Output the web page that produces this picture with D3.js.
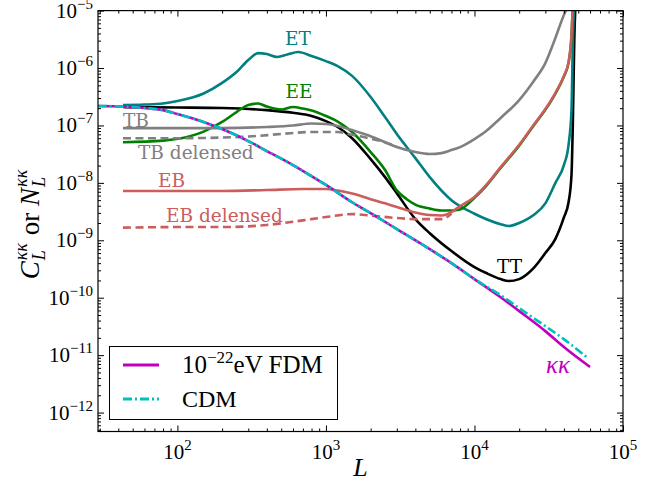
<!DOCTYPE html>
<html><head><meta charset="utf-8">
<script src="https://cdn.jsdelivr.net/npm/d3@7/dist/d3.min.js"></script>
<style>body{margin:0;background:#fff}</style>
</head><body>
<svg id="chart" width="665" height="484" xmlns="http://www.w3.org/2000/svg"></svg>
<script>
// ---------- data ----------
const L_TT = [43,100,200,400,600,800,1000,1200,1500,2000,2500,3000,4000,5000,7000,10000,12000,15000,17000,20000,25000,30000,35000,40000,43000,45000,46000,47000,48000];
const C_TT = [2.09e-7,2.05e-7,2.01e-7,1.85e-7,1.66e-7,1.46e-7,1.19e-7,9.4e-8,6.0e-8,2.59e-8,1.26e-8,6.6e-9,2.34e-9,1.33e-9,6.5e-10,3.41e-10,2.69e-10,2.11e-10,1.95e-10,2.11e-10,3.28e-10,6.0e-10,1.05e-9,2.5e-9,4.6e-9,1.37e-8,1.24e-7,3.1e-6,1.5e-5];

const L_ET = [43,60,80,100,150,200,250,300,350,400,470,550,650,800,1000,1200,1500,2000,2500,3000,4000,5000,7000,10000,15000,17000,20000,25000,30000,35000,40000,43000,45000,46000,47000];
const C_ET = [2.27e-7,2.31e-7,2.41e-7,2.66e-7,3.6e-7,5.5e-7,8.5e-7,1.38e-6,1.82e-6,1.75e-6,1.56e-6,1.72e-6,1.90e-6,1.62e-6,1.32e-6,1.08e-6,7.3e-7,3.13e-7,1.40e-7,7.1e-8,2.7e-8,1.26e-8,5.0e-9,2.9e-9,1.91e-9,1.77e-9,2.0e-9,2.75e-9,4.4e-9,9.9e-9,2.04e-8,4.6e-8,1.85e-7,3.1e-6,1.5e-5];

const L_EE = [43,80,120,150,200,250,300,350,400,500,600,700,800,1000,1200,1500,2000,2500,3000,3500,4000,5000,6000,7000,8000,10000,12000,15000,20000,25000,30000,35000,40000,43000,45000,46000];
const C_EE = [5.1e-8,5.45e-8,6.4e-8,7.8e-8,1.15e-7,1.71e-7,2.27e-7,2.41e-7,2.13e-7,1.89e-7,2.09e-7,1.97e-7,1.82e-7,1.46e-7,1.17e-7,7.7e-8,3.44e-8,1.67e-8,7.4e-9,5.2e-9,4.19e-9,3.56e-9,3.3e-9,3.3e-9,3.45e-9,5.5e-9,8.9e-9,1.82e-8,4.45e-8,9.9e-8,1.87e-7,3.56e-7,7.1e-7,1.23e-6,3.65e-6,1.25e-5];

const L_TB = [43,100,200,400,600,800,1000,1200,1500,2000,2500,3000,4000,5000,6000,7000,8000,10000,12000,15000,20000,25000,30000,35000,40000,42000];
const C_TB = [9.0e-8,9.0e-8,9.0e-8,9.4e-8,9.96e-8,1.08e-7,1.06e-7,9.8e-8,8.3e-8,6.5e-8,5.1e-8,4.2e-8,3.44e-8,3.18e-8,3.3e-8,3.72e-8,4.2e-8,5.8e-8,8.0e-8,1.35e-7,2.77e-7,5.9e-7,1.22e-6,3.3e-6,8.4e-6,1.1e-5];

const L_TBdel = [43,100,200,300,500,800,1200,1500,2000,2500,3000];
const C_TBdel = [6.0e-8,6.0e-8,6.15e-8,6.4e-8,7.1e-8,7.7e-8,7.7e-8,6.9e-8,5.9e-8,5.1e-8,4.2e-8];

const L_EB = [43,100,200,400,700,1000,1200,1500,2000,2500,3000,4000,5000,6000,7000,8000,10000,12000,15000,20000,25000,30000,35000,40000,43000,45000,46000];
const C_EB = [7.2e-9,7.2e-9,7.2e-9,7.5e-9,7.8e-9,7.8e-9,7.35e-9,6.5e-9,5.2e-9,4.4e-9,3.8e-9,3.04e-9,2.75e-9,2.7e-9,3.1e-9,3.94e-9,5.7e-9,9.2e-9,1.88e-8,4.6e-8,1.02e-7,1.93e-7,3.67e-7,7.3e-7,1.27e-6,3.76e-6,1.25e-5];

const L_EBdel = [43,100,200,400,600,800,1000,1500,2000,3000,4000,6000,7000];
const C_EBdel = [1.66e-9,1.70e-9,1.70e-9,1.85e-9,2.1e-9,2.34e-9,2.54e-9,2.86e-9,2.7e-9,2.44e-9,2.34e-9,2.34e-9,2.9e-9];

const L_FDM = [29,43,60,80,100,150,200,300,400,600,800,1000,1500,2000,3000,5000,7000,10000,15000,20000,30000,40000,60000];
const C_FDM = [2.18e-7,2.13e-7,2.01e-7,1.85e-7,1.58e-7,1.15e-7,8.65e-8,5.35e-8,3.58e-8,2.04e-8,1.31e-8,9.2e-9,4.6e-9,2.98e-9,1.57e-9,7.0e-10,4.0e-10,2.11e-10,1.02e-10,5.85e-11,2.62e-11,1.38e-11,6.2e-12];

const L_CDM = [29,43,60,80,100,150,200,300,400,600,800,1000,1500,2000,3000,5000,7000,10000,15000,20000,30000,40000,57000];
const C_CDM = [2.18e-7,2.13e-7,2.01e-7,1.85e-7,1.58e-7,1.15e-7,8.65e-8,5.35e-8,3.58e-8,2.04e-8,1.31e-8,9.2e-9,4.6e-9,2.98e-9,1.57e-9,7.0e-10,4.0e-10,2.11e-10,1.11e-10,6.6e-11,3.2e-11,1.9e-11,9.2e-12];

const xTickExps = [2,3,4,5];
const yTickExps = [-12,-11,-10,-9,-8,-7,-6,-5];
const xDomain = [29.2, 1e5];
const yDomain = [4.68e-13, 1e-5];

// ---------- layout ----------
const svg = d3.select("#chart");
const plot = {left:98, right:623, top:10.6, bottom:431.5};
const x = d3.scaleLog().domain(xDomain).range([plot.left, plot.right]);
const y = d3.scaleLog().domain(yDomain).range([plot.bottom, plot.top]);

svg.append("rect").attr("width",665).attr("height",484).attr("fill","#fff");

svg.append("defs").append("clipPath").attr("id","clip")
  .append("rect").attr("x",plot.left).attr("y",plot.top)
  .attr("width",plot.right-plot.left).attr("height",plot.bottom-plot.top);

const series = [
  {L:L_TT, C:C_TT, color:"#000000", dash:null},
  {L:L_ET, C:C_ET, color:"#008080", dash:null},
  {L:L_EE, C:C_EE, color:"#008000", dash:null},
  {L:L_TB, C:C_TB, color:"#808080", dash:null},
  {L:L_TBdel, C:C_TBdel, color:"#808080", dash:"8,4.5"},
  {L:L_EB, C:C_EB, color:"#CD5C5C", dash:null},
  {L:L_EBdel, C:C_EBdel, color:"#CD5C5C", dash:"8,4.5"},
  {L:L_FDM, C:C_FDM, color:"#BF00BF", dash:null},
  {L:L_CDM, C:C_CDM, color:"#00BFBF", dash:"9,3,2,3"}
];

const line = d3.line().x(d=>x(d[0])).y(d=>y(d[1])).curve(d3.curveMonotoneX);
const g = svg.append("g").attr("clip-path","url(#clip)");
series.forEach(s=>{
  const pts = s.L.map((l,i)=>[l, s.C[i]]);
  g.append("path").attr("d", line(pts)).attr("fill","none")
    .attr("stroke", s.color).attr("stroke-width", 2.6)
    .attr("stroke-dasharray", s.dash).attr("stroke-linejoin","round");
});

// ---------- axes (inward ticks on all four sides) ----------
const isMajor = v => Math.abs(Math.log10(v) - Math.round(Math.log10(v))) < 1e-6;
const xt = x.ticks(); const yt = y.ticks();
const xMaj = xt.filter(isMajor), xMin = xt.filter(v=>!isMajor(v));
const yMaj = yt.filter(isMajor), yMin = yt.filter(v=>!isMajor(v));

function addAxis(gen, tr, vals, size){
  const a = svg.append("g").attr("transform", tr)
    .call(gen.tickValues(vals).tickSize(-size).tickFormat(""));
  a.select(".domain").remove();
  a.selectAll("line").attr("stroke","#000").attr("stroke-width",1);
}
addAxis(d3.axisBottom(x), `translate(0,${plot.bottom})`, xMaj, 6);
addAxis(d3.axisBottom(x), `translate(0,${plot.bottom})`, xMin, 3);
addAxis(d3.axisTop(x), `translate(0,${plot.top})`, xMaj, 6);
addAxis(d3.axisTop(x), `translate(0,${plot.top})`, xMin, 3);
addAxis(d3.axisLeft(y), `translate(${plot.left},0)`, yMaj, 6);
addAxis(d3.axisLeft(y), `translate(${plot.left},0)`, yMin, 3);
addAxis(d3.axisRight(y), `translate(${plot.right},0)`, yMaj, 6);
addAxis(d3.axisRight(y), `translate(${plot.right},0)`, yMin, 3);

svg.append("rect").attr("x",plot.left).attr("y",plot.top)
  .attr("width",plot.right-plot.left).attr("height",plot.bottom-plot.top)
  .attr("fill","none").attr("stroke","#000").attr("stroke-width",1.2);

const tickFont = "Liberation Serif, DejaVu Serif, serif";
xTickExps.forEach(e=>{
  const t = svg.append("text").attr("x", x(Math.pow(10,e))).attr("y", 459)
    .attr("text-anchor","middle").attr("font-family",tickFont).attr("font-size",21);
  t.append("tspan").text("10");
  t.append("tspan").attr("dy",-9).attr("font-size",15).text(String(e));
});
yTickExps.forEach(e=>{
  const t = svg.append("text").attr("x", 93).attr("y", y(Math.pow(10,e))+7)
    .attr("text-anchor","end").attr("font-family",tickFont).attr("font-size",21);
  t.append("tspan").text("10");
  t.append("tspan").attr("dy",-9).attr("font-size",15).text(String(e).replace("-","\u2212"));
});

// axis titles
svg.append("text").attr("x",(plot.left+plot.right)/2).attr("y",476)
  .attr("text-anchor","middle").attr("font-family",tickFont).attr("font-style","italic")
  .attr("font-size",26).text("L");

// y title: C_L^{κκ} or N_L^{κκ}, laid out piece by piece along a rotated baseline
const ylOuter = svg.append("g").attr("transform","translate(39,224) rotate(-90)");
const yl = ylOuter.append("g");
let cur = 0;
function piece(txt, size, italic, dy){
  const t = yl.append("text").attr("x",cur).attr("y",dy).attr("font-family",tickFont)
    .attr("font-size",size).attr("font-style", italic ? "italic" : "normal").text(txt);
  return t.node().getComputedTextLength();
}
function scripts(sup, sub){
  const w1 = piece(sup, 18, true, -12);
  const w2 = piece(sub, 18, true, 6);
  cur += Math.max(w1, w2) + 1;
}
cur += piece("C", 27, true, 0) + 1;
scripts("κκ", "L");
cur += piece("\u00a0or\u00a0", 27, false, 0);
cur += piece("N", 27, true, 0) + 1;
scripts("κκ", "L");
yl.attr("transform", `translate(${-cur/2},0)`);

// curve labels
const labFont = "DejaVu Serif, serif";
const labels = [
  {t:"ET", x:298, y:45, c:"#008080", a:"middle"},
  {t:"EE", x:299, y:98, c:"#008000", a:"middle"},
  {t:"TB", x:123, y:127, c:"#808080", a:"start"},
  {t:"TB delensed", x:138, y:159, c:"#808080", a:"start"},
  {t:"EB", x:158, y:187, c:"#CD5C5C", a:"start"},
  {t:"EB delensed", x:166, y:222, c:"#CD5C5C", a:"start"},
  {t:"TT", x:497, y:273, c:"#000000", a:"start"}
];
labels.forEach(l=>{
  svg.append("text").attr("x",l.x).attr("y",l.y).attr("text-anchor",l.a)
    .attr("font-family",labFont).attr("font-size",18.5).attr("fill",l.c).text(l.t);
});
svg.append("text").attr("x",546).attr("y",373).attr("font-family",tickFont)
  .attr("font-style","italic").attr("font-size",25).attr("fill","#BF00BF").text("κκ");

// legend
const lg = svg.append("g");
lg.append("rect").attr("x",109.5).attr("y",346.5).attr("width",228).attr("height",73)
  .attr("fill","#fff").attr("stroke","#000").attr("stroke-width",1);
lg.append("line").attr("x1",123).attr("x2",159).attr("y1",365).attr("y2",365)
  .attr("stroke","#BF00BF").attr("stroke-width",3);
lg.append("line").attr("x1",123).attr("x2",159).attr("y1",399).attr("y2",399)
  .attr("stroke","#00BFBF").attr("stroke-width",3).attr("stroke-dasharray","9,3,2,3");
const t1 = lg.append("text").attr("x",182).attr("y",373).attr("font-family",tickFont).attr("font-size",25);
t1.append("tspan").text("10");
t1.append("tspan").attr("dy",-10).attr("font-size",17).text("\u221222");
t1.append("tspan").attr("dy",10).text("eV FDM");
lg.append("text").attr("x",182).attr("y",407).attr("font-family",tickFont).attr("font-size",24).text("CDM");
</script>
</body></html>
